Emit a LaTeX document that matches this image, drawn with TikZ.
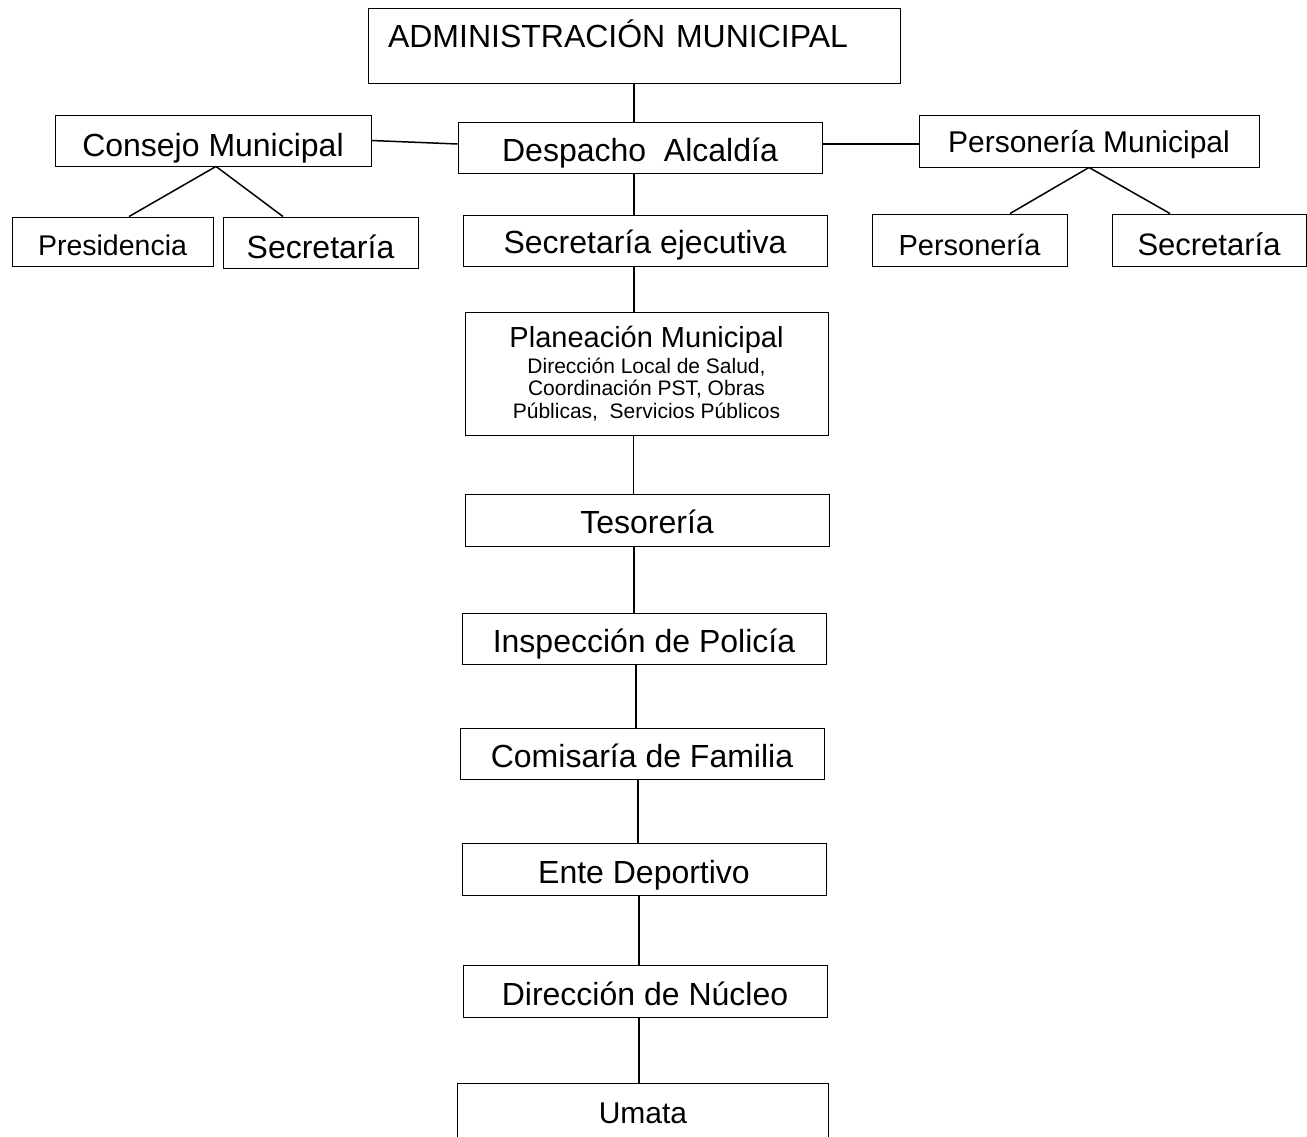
\documentclass[tikz,border=0pt]{standalone}
\usepackage{fontspec}
\setmainfont{Liberation Sans}
\usepackage{tikz}
\usetikzlibrary{positioning}

\begin{document}
\begin{tikzpicture}[x=1pt,y=-1pt,
  box/.style={draw,line width=0.9pt,inner sep=0pt,text depth=0pt,
    minimum width=364pt,minimum height=51pt,font=\fontsize{32}{38}\selectfont},
  link/.style={line width=1.5pt}]
\useasboundingbox (0,0) rectangle (1307,1137);
% Organigrama
\node[box,minimum width=532pt,minimum height=75pt,inner xsep=20pt,text width=492pt,align=left,text height=5pt] (adm) at (634,45.5) {ADMINISTRACIÓN MUNICIPAL};

\node[box,text height=29pt] (despacho) at (640,147.5) {Despacho~ Alcaldía};
\node[box,minimum width=316pt,text height=33pt] (concejo) at (213,140.5) {Consejo Municipal};
\node[box,minimum width=340pt,minimum height=52pt,text height=24pt,font=\fontsize{30}{36}\selectfont] (personeria) at (1089,141) {Personería Municipal};

\node[box,minimum width=201pt,minimum height=49pt,text height=27pt,font=\fontsize{28.5}{34}\selectfont] (presid) at (112.5,241.5) {Presidencia};
\node[box,minimum width=195pt,text height=31pt] (secconc) at (320.5,242.5) {Secretaría};
\node[box,text height=25pt] (secejec) at (645,240.5) {Secretaría ejecutiva};
\node[box,minimum width=195pt,minimum height=52pt,text height=30pt,font=\fontsize{29}{35}\selectfont] (personero) at (969.5,240) {Personería};
\node[box,minimum width=194pt,minimum height=52pt,text height=30pt,font=\fontsize{31}{37}\selectfont] (secpers) at (1209,240) {Secretaría};

\node[box,minimum width=363pt,minimum height=123pt,text depth=,align=center,font=\fontsize{21}{22.5}\selectfont] (planea) at (646.5,373.5)
  {{\fontsize{29}{30}\selectfont Planeación Municipal}\\[3pt] Dirección Local de Salud,\\ Coordinación PST, Obras\\ Públicas,~ Servicios Públicos};
\node[box,minimum height=52pt,text height=26pt] (tesoreria) at (647,520) {Tesorería};
\node[box,text height=27pt] (inspeccion) at (644,638.5) {Inspección de Policía};
\node[box,text height=27pt] (comisaria) at (642,753.5) {Comisaría de Familia};
\node[box,minimum height=52pt,text height=28pt] (ente) at (644,869) {Ente Deportivo};
\node[box,minimum height=52pt,text height=28pt] (nucleo) at (645,991) {Dirección de Núcleo};
\node[minimum width=370pt,minimum height=53pt,inner sep=0pt,text height=25pt,text depth=0pt,font=\fontsize{30}{36}\selectfont] (umata) at (643,1110.5) {Umata};
\draw[line width=0.9pt] (umata.south west) |- (umata.north east) -- (umata.south east);

\draw[link] (adm.south) -- (adm.south |- despacho.north);
\draw[link] ([xshift=-6pt]despacho.south) -- ([xshift=-6pt]despacho.south |- secejec.north);
\draw[link] ([xshift=-11pt]secejec.south) -- ([xshift=-11pt]secejec.south |- planea.north);
\draw[link] ([xshift=-13pt]planea.south) -- ([xshift=-13pt]planea.south |- tesoreria.north);
\draw[link] ([xshift=-13pt]tesoreria.south) -- ([xshift=-13pt]tesoreria.south |- inspeccion.north);
\draw[link] ([xshift=-8pt]inspeccion.south) -- ([xshift=-8pt]inspeccion.south |- comisaria.north);
\draw[link] ([xshift=-4pt]comisaria.south) -- ([xshift=-4pt]comisaria.south |- ente.north);
\draw[link] ([xshift=-5pt]ente.south) -- ([xshift=-5pt]ente.south |- nucleo.north);
\draw[link] ([xshift=-6pt]nucleo.south) -- ([xshift=-6pt]nucleo.south |- umata.north);

\draw[link] (concejo.east) -- ([yshift=3.5pt]despacho.west);
\draw[link] ([yshift=3.5pt]despacho.east) -- ([yshift=-3pt]personeria.west);
\draw[link] ([xshift=3pt]concejo.south) -- ([xshift=16.5pt]presid.north);
\draw[link] ([xshift=3pt]concejo.south) -- ([xshift=-37.5pt]secconc.north);
\draw[link] (personeria.south) -- ([xshift=40.5pt]personero.north);
\draw[link] (personeria.south) -- ([xshift=-39pt]secpers.north);
\end{tikzpicture}
\end{document}
